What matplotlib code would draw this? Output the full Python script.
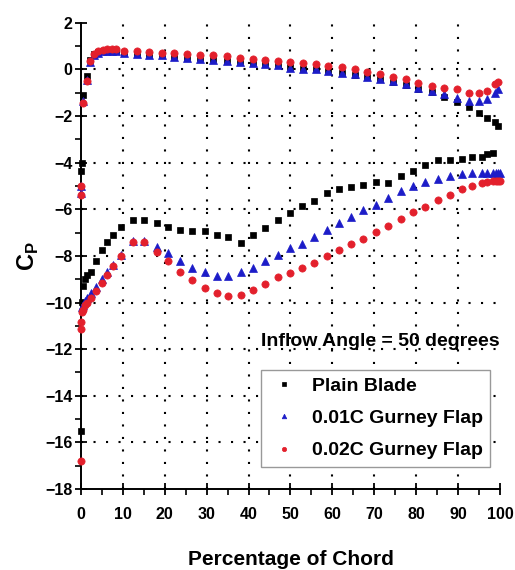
import numpy as np
import matplotlib
matplotlib.use("Agg")
import matplotlib.pyplot as plt
from matplotlib.ticker import MultipleLocator

plt.rcParams['font.family'] = ['Liberation Sans', 'DejaVu Sans']
plt.rcParams['font.weight'] = 'bold'

# upper (pressure) side stations, % chord
x_up = [0.5, 1.4, 2.1, 3.1, 4.1, 5.2, 6.2, 7.4, 8.4, 10.4, 13.3, 16.2, 19.4, 22.2,
        25.4, 28.4, 31.6, 34.8, 38.0, 41.0, 44.0, 47.0, 50.0, 53.0, 56.0, 59.0,
        62.3, 65.4, 68.3, 71.4, 74.5, 77.6, 80.4, 83.8, 86.6, 89.7, 92.5, 95.0,
        97.0, 98.7, 99.5]
plain_up = [-1.1, -0.3, 0.4, 0.65, 0.75, 0.8, 0.8, 0.8, 0.78, 0.72, 0.68, 0.64, 0.6, 0.55,
            0.5, 0.47, 0.43, 0.38, 0.32, 0.27, 0.25, 0.17, 0.1, 0.02, 0.0, -0.08,
            -0.15, -0.22, -0.33, -0.42, -0.52, -0.66, -0.85, -0.98, -1.19, -1.4, -1.63, -1.85,
            -2.1, -2.27, -2.43]
gf01_up = [-1.35, -0.45, 0.3, 0.6, 0.72, 0.78, 0.8, 0.8, 0.78, 0.7, 0.66, 0.62, 0.6, 0.53,
           0.48, 0.46, 0.42, 0.37, 0.31, 0.26, 0.25, 0.17, 0.08, 0.0, 0.0, -0.07,
           -0.14, -0.21, -0.33, -0.4, -0.5, -0.64, -0.79, -0.93, -1.07, -1.21, -1.36, -1.36,
           -1.29, -1.0, -0.86]
gf02_up = [-1.45, -0.5, 0.35, 0.65, 0.78, 0.85, 0.86, 0.87, 0.86, 0.8, 0.77, 0.74, 0.72, 0.7,
           0.65, 0.63, 0.6, 0.56, 0.5, 0.44, 0.42, 0.38, 0.33, 0.28, 0.22, 0.14,
           0.1, 0.02, -0.1, -0.21, -0.31, -0.43, -0.57, -0.69, -0.79, -0.86, -1.0, -1.0,
           -0.93, -0.64, -0.54]

# lower (suction) side stations
x_lo = [0.5, 1.0, 1.4, 2.4, 3.6, 5.0, 6.2, 7.6, 9.5, 12.4, 15.0, 18.1, 20.8, 23.6, 26.6,
        29.5, 32.4, 35.1, 38.1, 41.0, 43.9, 47.0, 49.9, 52.7, 55.6, 58.7, 61.6, 64.4,
        67.3, 70.4, 73.3, 76.4, 79.2, 82.1, 85.2, 88.0, 90.9, 93.4, 95.6, 97.0, 98.3,
        99.0, 99.6, 100.0]
plain_lo = [-9.3, -9.0, -8.8, -8.7, -8.2, -7.75, -7.4, -7.1, -6.75, -6.47, -6.47, -6.6, -6.75,
            -6.87, -6.95, -6.95, -7.1, -7.2, -7.43, -7.12, -6.8, -6.47, -6.15, -5.86, -5.63,
            -5.32, -5.15, -5.06, -4.94, -4.85, -4.86, -4.55, -4.37, -4.08, -3.9, -3.88, -3.84,
            -3.77, -3.76, -3.64, -3.57, np.nan, np.nan, np.nan]
gf01_lo = [-10.1, -9.95, -9.8, -9.6, -9.35, -9.0, -8.7, -8.37, -7.94, -7.37, -7.37, -7.6, -7.87,
           -8.2, -8.5, -8.7, -8.84, -8.84, -8.7, -8.5, -8.2, -7.94, -7.68, -7.47, -7.2,
           -6.9, -6.6, -6.35, -6.05, -5.8, -5.5, -5.2, -5.02, -4.82, -4.68, -4.58, -4.47,
           -4.43, -4.43, -4.43, -4.43, -4.43, -4.43, -4.43]
gf02_lo = [-10.3, -10.1, -10.0, -9.8, -9.5, -9.15, -8.8, -8.45, -8.0, -7.4, -7.4, -7.85, -8.2,
           -8.67, -9.05, -9.36, -9.6, -9.74, -9.66, -9.44, -9.2, -8.9, -8.75, -8.5, -8.3,
           -8.0, -7.75, -7.5, -7.27, -6.98, -6.73, -6.4, -6.12, -5.88, -5.62, -5.37, -5.15,
           -4.98, -4.88, -4.82, -4.8, -4.8, -4.8, -4.8]

# leading-edge taps
plain_le_x = [0.2, 0.1, 0.2, 0.1]
plain_le = [-4.0, -4.35, -9.96, -15.5]
gf01_le_x = [0.1, 0.1, 0.2]
gf01_le = [-5.0, -5.3, -10.2]
gf02_le_x = [0.1, 0.1, 0.2, 0.1, 0.1, 0.1]
gf02_le = [-5.0, -5.4, -10.4, -10.85, -11.15, -16.8]

series = [
    ("Plain Blade", plain_le_x + x_up + x_lo, plain_le + plain_up + plain_lo, 's', '#000000', 4.5),
    ("0.01C Gurney Flap", gf01_le_x + x_up + x_lo, gf01_le + gf01_up + gf01_lo, '^', '#1c1cc8', 5.5),
    ("0.02C Gurney Flap", gf02_le_x + x_up + x_lo, gf02_le + gf02_up + gf02_lo, 'o', '#e3202c', 5.2),
]

fig = plt.figure(figsize=(5.15, 5.7), dpi=100)
ax = fig.add_axes([0.157, 0.142, 0.814, 0.818])

for gx in range(10, 100, 10):
    ax.axvline(gx, color='black', lw=1.5, dashes=(1, 5), zorder=1)
for gy in range(-16, 2, 2):
    ax.axhline(gy, color='black', lw=1.5, dashes=(1, 5), zorder=1)

for label, xs, ys, mk, col, ms in series:
    ax.plot(xs, ys, linestyle='none', marker=mk, color=col, markersize=ms,
            markeredgewidth=0.5, label=label, clip_on=False, zorder=3)

ax.set_xlim(0, 100)
ax.set_ylim(-18, 2)
ax.xaxis.set_major_locator(MultipleLocator(10))
ax.xaxis.set_minor_locator(MultipleLocator(5))
ax.yaxis.set_major_locator(MultipleLocator(2))
ax.yaxis.set_minor_locator(MultipleLocator(1))
ax.spines['top'].set_visible(False)
ax.spines['right'].set_visible(False)
ax.spines['left'].set_linewidth(1.4)
ax.spines['bottom'].set_linewidth(1.4)
ax.tick_params(which='major', direction='inout', length=8, width=1.3, labelsize=11.5, pad=2)
ax.tick_params(axis='x', which='major', pad=9)
ax.tick_params(which='minor', direction='out', length=4, width=1.2)
for t in ax.get_xticklabels() + ax.get_yticklabels():
    t.set_fontweight('bold')

ax.set_xlabel("Percentage of Chord", fontsize=15, fontweight='bold', labelpad=20)
ax.set_ylabel(r"C$_\mathregular{P}$", fontsize=17, fontweight='bold', labelpad=3)

ax.text(0.998, 0.317, "Inflow Angle = 50 degrees", transform=ax.transAxes,
        ha='right', va='center', fontsize=14, fontweight='bold', zorder=2)

leg = ax.legend(loc='lower right', bbox_to_anchor=(1.0, 0.026), fontsize=14,
                markerscale=0.6, fancybox=False, framealpha=1, edgecolor='#999999',
                labelspacing=0.75, handletextpad=0.6, borderpad=0.4, handlelength=1.6)
leg.get_frame().set_linewidth(1.0)
for t in leg.get_texts():
    t.set_fontweight('bold')

fig.savefig("out.png", dpi=100)
